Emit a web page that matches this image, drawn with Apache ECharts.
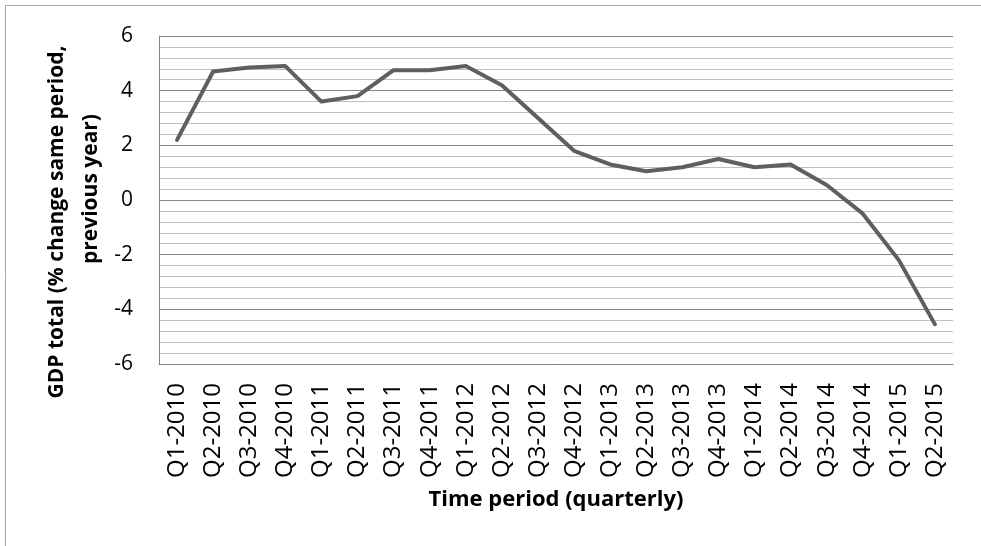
<!DOCTYPE html>
<html>
<head>
<meta charset="utf-8">
<script src="https://cdn.jsdelivr.net/npm/echarts@6/dist/echarts.min.js"></script>
<style>
  html, body { margin: 0; padding: 0; background: #fff; }
  #chart { width: 981px; height: 546px; }
</style>
</head>
<body>
<div id="chart"></div>
<script>
// quarterly GDP change, % vs same period previous year
const quarters = [
  'Q1-2010', 'Q2-2010', 'Q3-2010', 'Q4-2010',
  'Q1-2011', 'Q2-2011', 'Q3-2011', 'Q4-2011',
  'Q1-2012', 'Q2-2012', 'Q3-2012', 'Q4-2012',
  'Q1-2013', 'Q2-2013', 'Q3-2013', 'Q4-2013',
  'Q1-2014', 'Q2-2014', 'Q3-2014', 'Q4-2014',
  'Q1-2015', 'Q2-2015'
]
const gdpChange = [
  2.2, 4.7, 4.85, 4.9,
  3.6, 3.8, 4.75, 4.75,
  4.9, 4.2, 3.0, 1.8,
  1.3, 1.05, 1.2, 1.5,
  1.2, 1.3, 0.55, -0.5,
  -2.2, -4.55
]
const yTicks = [-6, -4, -2, 0, 2, 4, 6]

const font = 'Open Sans'
const chart = echarts.init(document.getElementById('chart'))

const option = {
  animation: false,
  graphic: [
    {
      type: 'rect',
      z: -1,
      shape: { x: 5.5, y: 5.5, width: 1000, height: 600 },
      style: { fill: 'none', stroke: '#a6a6a6', lineWidth: 1 }
    },
    {
      type: 'text',
      x: 57,
      y: 222,
      rotation: Math.PI / 2,
      style: {
        text: 'GDP total (% change same period,',
        font: 'bold 21px "Open Sans"',
        fill: '#000',
        align: 'center',
        verticalAlign: 'middle'
      }
    },
    {
      type: 'text',
      x: 91,
      y: 189,
      rotation: Math.PI / 2,
      style: {
        text: 'previous year)',
        font: 'bold 21px "Open Sans"',
        fill: '#000',
        align: 'center',
        verticalAlign: 'middle'
      }
    }
  ],
  grid: {
    left: 159,
    right: 28,
    top: 36,
    bottom: 182,
    containLabel: false
  },
  xAxis: {
    type: 'category',
    data: quarters,
    boundaryGap: true,
    name: 'Time period (quarterly)',
    nameLocation: 'middle',
    nameGap: 125,
    nameTextStyle: { fontFamily: font, fontSize: 22, fontWeight: 'bold', color: '#000' },
    axisLine: { onZero: false, lineStyle: { color: '#868686', width: 1 } },
    axisTick: { show: false },
    axisLabel: {
      rotate: 90,
      margin: 19,
      interval: 0,
      fontFamily: font,
      fontSize: 24,
      color: '#000'
    }
  },
  yAxis: {
    type: 'value',
    min: yTicks[0],
    max: yTicks[yTicks.length - 1],
    interval: 2,
    axisLine: { show: true, lineStyle: { color: '#868686', width: 1 } },
    axisTick: { show: false },
    axisLabel: {
      margin: 26,
      fontFamily: font,
      fontSize: 21,
      color: '#000'
    },
    splitLine: { lineStyle: { color: '#868686', width: 1 } },
    minorTick: { show: false, splitNumber: 5 },
    minorSplitLine: { show: true, lineStyle: { color: '#bfbfbf', width: 1 } }
  },
  series: [
    {
      type: 'line',
      data: gdpChange,
      symbol: 'none',
      smooth: false,
      lineStyle: { color: '#5f5f5f', width: 4, cap: 'round', join: 'round' }
    }
  ]
}

chart.setOption(option)
</script>
</body>
</html>
